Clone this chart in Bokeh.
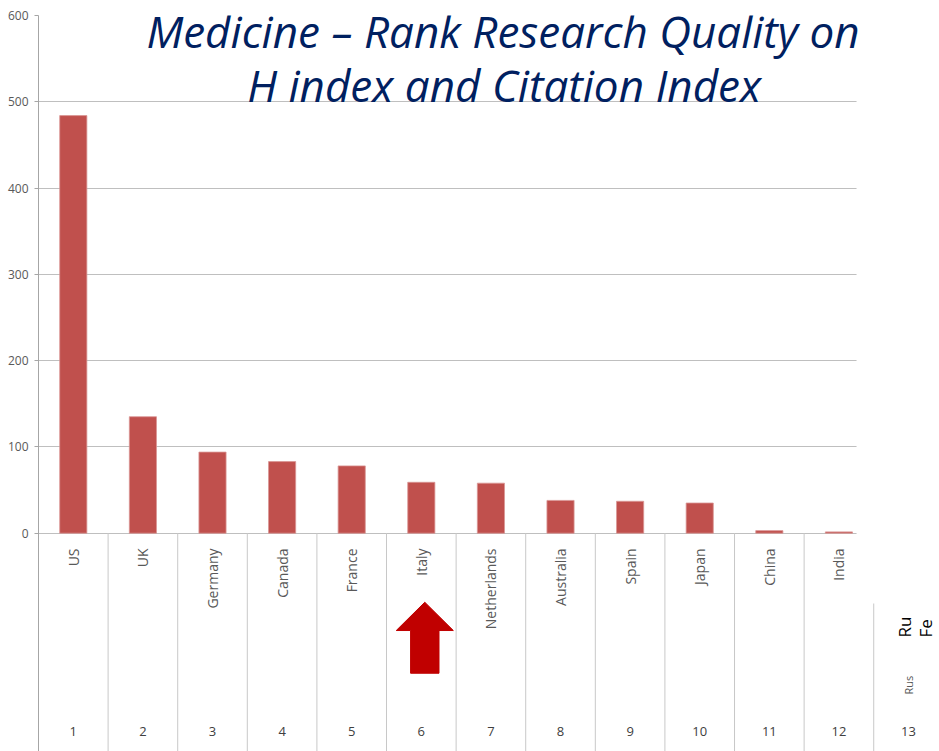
import math
from bokeh.plotting import figure
from bokeh.models import FixedTicker, BoxAnnotation, Range1d, Label
from bokeh.core.properties import value
from bokeh.embed import file_html
from bokeh.resources import INLINE

# ---- data ----
countries = ["US", "UK", "Germany", "Canada", "France", "Italy", "Netherlands",
             "Australia", "Spain", "Japan", "China", "India"]
scores = [484, 135, 94, 83, 78, 59, 58, 38, 37, 35, 3, 1.5]
ranks = list(range(1, 14))
hidden_country = "Russian Federation"
y_ticks = [0, 100, 200, 300, 400, 500, 600]
title_lines = ["Medicine \u2013 Rank Research Quality on", "H index and Citation Index"]
highlight = "Italy"

FONT = "Open Sans"
xs = list(range(1, len(countries) + 1))

p = figure(width=939, height=751,
           x_range=Range1d(0.5, 13.445), y_range=Range1d(-253.0, 600),
           output_backend="svg", toolbar_location=None,
           x_axis_location=None,
           min_border_left=38, min_border_right=0, min_border_top=15, min_border_bottom=0)
p.outline_line_color = None
p.background_fill_color = "white"

# axis
p.yaxis.ticker = FixedTicker(ticks=y_ticks)
p.yaxis.major_tick_out = 4
p.yaxis.major_tick_in = 0
p.yaxis.minor_tick_line_color = None
p.yaxis.axis_line_color = "#A6A6A6"
p.yaxis.major_tick_line_color = "#A6A6A6"
p.yaxis.major_label_text_font = FONT
p.yaxis.major_label_text_font_size = "12px"
p.yaxis.major_label_text_color = "#595959"
p.yaxis.major_label_standoff = 6

p.xgrid.visible = False
p.ygrid.ticker = FixedTicker(ticks=y_ticks)
p.ygrid.grid_line_color = "#BFBFBF"
p.ygrid.grid_line_width = 1

# bars
p.vbar(x=xs, top=scores, bottom=0, width=0.39,
       fill_color="#C0504D", line_color="#D99694", line_width=0.8)

# category table separators
y_bottom = p.y_range.start
bounds = [i + 0.5 for i in range(1, len(countries) + 1)]
p.segment(x0=bounds, y0=[0] * len(bounds), x1=bounds, y1=[y_bottom] * len(bounds),
          line_color="#C8C8C8", line_width=1)

# country labels (rotated)
p.text(x=xs, y=[-17.7] * len(xs), text=countries, angle=math.pi / 2,
       text_align="right", text_baseline="middle",
       text_font=value(FONT), text_font_size="14px", text_color="#595959")

# rank numbers
p.text(x=ranks, y=[-229.8] * len(ranks), text=[str(r) for r in ranks],
       text_align="center", text_baseline="middle",
       text_font=value(FONT), text_font_size="13px", text_color="#404040")

# partially hidden 13th category
p.text(x=[13], y=[-187], text=[hidden_country[:3]], angle=math.pi / 2,
       text_align="left", text_baseline="middle",
       text_font=value(FONT), text_font_size="11px", text_color="#595959")
big_words = hidden_country.split()
p.text(x=[12.94, 13.25], y=[-121, -121], text=[w[:2] for w in big_words], angle=math.pi / 2,
       text_align="left", text_baseline="middle",
       text_font=value(FONT), text_font_size="17px", text_color="#000000")

# white cover (slide overlay)
p.add_layout(BoxAnnotation(left=12.253, bottom=-81.5, top=598,
                           fill_color="white", fill_alpha=1.0, line_color=None))

# red arrow under highlighted country
cx = countries.index(highlight) + 1 + 0.05
ax = [cx, cx + 0.41, cx + 0.204, cx + 0.204, cx - 0.204, cx - 0.204, cx - 0.41]
ay = [-80, -112.8, -112.8, -162.3, -162.3, -112.8, -112.8]
p.patch(ax, ay, fill_color="#C00000", line_color="#C00000")

# title (annotations, not clipped by the frame)
for tx, ty, line in zip([7.174, 7.19], [582.5, 520.0], title_lines):
    p.add_layout(Label(x=tx, y=ty, text=line, text_align="center",
                       text_baseline="middle", text_font=FONT,
                       text_font_style="italic", text_font_size="44px",
                       text_color="#002060", level="overlay"))

open("out.html", "w").write(file_html(p, INLINE))
